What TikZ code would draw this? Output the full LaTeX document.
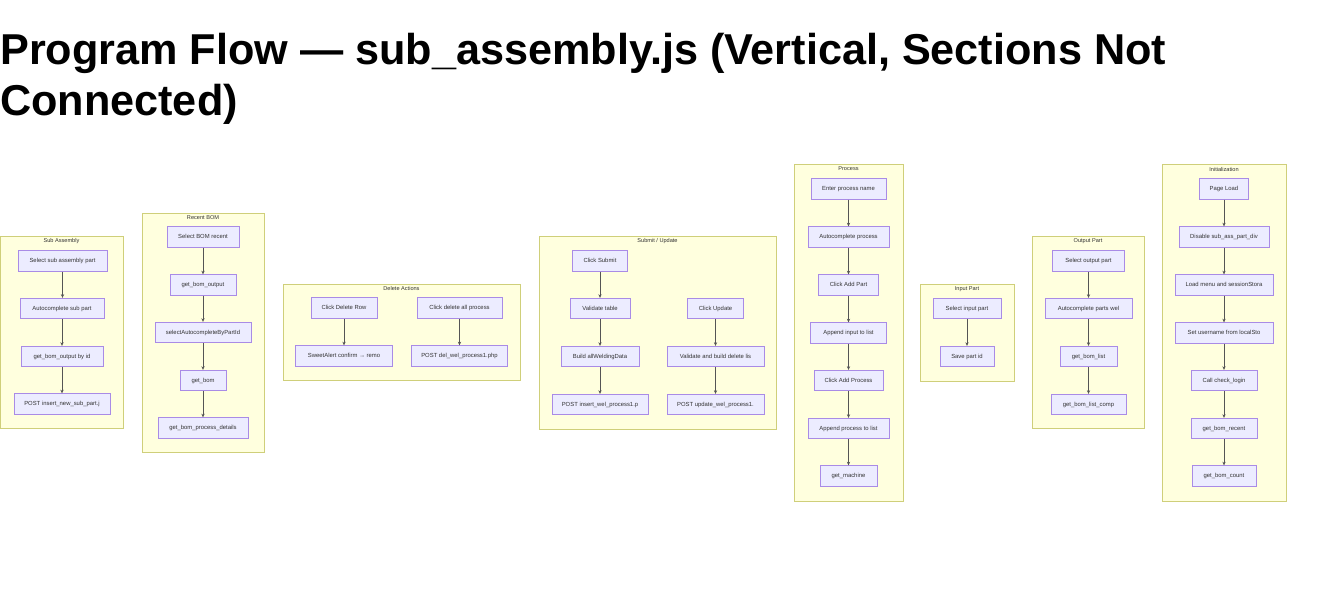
\documentclass[tikz,border=0pt]{standalone}
\usepackage{fontspec}
\setmainfont{Liberation Sans}
\newfontfamily\titlefont{Liberation Sans}
\usetikzlibrary{arrows.meta}
\definecolor{ndfill}{HTML}{ECECFF}
\definecolor{ndline}{HTML}{A98BE6}
\definecolor{clfill}{HTML}{FFFFDE}
\definecolor{clline}{HTML}{CFCF7A}
\definecolor{txt}{HTML}{333333}
\definecolor{arc}{HTML}{555555}
\tikzset{
  nd/.style={draw=ndline, fill=ndfill, line width=0.8pt, minimum height=20.5pt, inner sep=0pt,
    font=\fontsize{5.9}{6.5}\selectfont, text=txt, anchor=center, text height=4.3pt, text depth=1.3pt},
  cl/.style={draw=clline, fill=clfill, line width=0.8pt},
  cltitle/.style={font=\fontsize{5.6}{6}\selectfont, text=txt, inner sep=0pt},
  ar/.style={draw=arc, line width=0.5pt, -{Stealth[length=3.6pt,width=3.2pt]}}
}
\newcommand{\conn}[2]{\draw[ar] (#1.south) -- (#1.south |- #2.north);}
\begin{document}
\begin{tikzpicture}[x=1pt,y=-1pt]
\useasboundingbox (0,0) rectangle (1322,594);
\fill[white] (0,0) rectangle (1322,594);
% title
\node[anchor=base west, inner sep=0pt, font=\titlefont\bfseries\fontsize{43.2}{50}\selectfont] (t1) at (0,65) {Program Flow — sub\_assembly.js (Vertical, Sections Not};
\node[anchor=base west, inner sep=0pt, font=\titlefont\bfseries\fontsize{43.2}{50}\selectfont] (t2) at (0,115) {Connected)};

% clusters
\draw[cl] (0,236) rectangle (123,428);
\node[cltitle] (c1) at (61.5,241) {Sub Assembly};
\draw[cl] (142,213) rectangle (264,452);
\node[cltitle] (c2) at (203,217.5) {Recent BOM};
\draw[cl] (283,284) rectangle (520,380);
\node[cltitle] (c3) at (401.5,288.5) {Delete Actions};
\draw[cl] (539,236) rectangle (776,429);
\node[cltitle] (c4) at (657.5,241) {Submit / Update};
\draw[cl] (794,164) rectangle (903,501);
\node[cltitle] (c5) at (848.5,169) {Process};
\draw[cl] (920,284) rectangle (1014,381);
\node[cltitle] (c6) at (967,289) {Input Part};
\draw[cl] (1032,236) rectangle (1144,428);
\node[cltitle] (c7) at (1088,241) {Output Part};
\draw[cl] (1162,164) rectangle (1286,501);
\node[cltitle] (c8) at (1224,169) {Initialization};

% Sub Assembly
\node[nd, minimum width=89pt] (sa1) at (62.5,261) {Select sub assembly part};
\node[nd, minimum width=84pt] (sa2) at (62,308.5) {Autocomplete sub part};
\node[nd, minimum width=82pt] (sa3) at (62,356.5) {get\_bom\_output by id};
\node[nd, minimum width=96pt] (sa4) at (62,404) {POST insert\_new\_sub\_part.j};
\conn{sa1}{sa2}
\conn{sa2}{sa3}
\conn{sa3}{sa4}

% Recent BOM
\node[nd, minimum width=72pt] (rb1) at (203,237) {Select BOM recent};
\node[nd, minimum width=66pt] (rb2) at (203,285) {get\_bom\_output};
\node[nd, minimum width=96pt] (rb3) at (203,332.5) {selectAutocompleteByPartId};
\node[nd, minimum width=46pt] (rb4) at (203,380.5) {get\_bom};
\node[nd, minimum width=90pt] (rb5) at (203,428) {get\_bom\_process\_details};
\conn{rb1}{rb2}
\conn{rb2}{rb3}
\conn{rb3}{rb4}
\conn{rb4}{rb5}

% Delete Actions
\node[nd, minimum width=66pt] (da1) at (344,308) {Click Delete Row};
\node[nd, minimum width=85pt] (da2) at (459.5,308) {Click delete all process};
\node[nd, minimum width=97pt] (da3) at (344,356) {SweetAlert confirm → remo};
\node[nd, minimum width=96pt] (da4) at (459.5,356) {POST del\_wel\_process1.php};
\conn{da1}{da3}
\conn{da2}{da4}

% Submit / Update
\node[nd, minimum width=55pt] (su1) at (600,261) {Click Submit};
\node[nd, minimum width=60pt] (su2) at (600,308.5) {Validate table};
\node[nd, minimum width=78pt] (su3) at (600,356.5) {Build allWeldingData};
\node[nd, minimum width=96pt] (su4) at (600,404.5) {POST insert\_wel\_process1.p};
\node[nd, minimum width=56pt] (su5) at (715.5,308.5) {Click Update};
\node[nd, minimum width=97pt] (su6) at (715.5,356.5) {Validate and build delete lis};
\node[nd, minimum width=97pt] (su7) at (715.5,404.5) {POST update\_wel\_process1.};
\conn{su1}{su2}
\conn{su2}{su3}
\conn{su3}{su4}
\conn{su5}{su6}
\conn{su6}{su7}

% Process
\node[nd, minimum width=75pt] (pr1) at (848.5,189) {Enter process name};
\node[nd, minimum width=81pt] (pr2) at (848.5,237) {Autocomplete process};
\node[nd, minimum width=60pt] (pr3) at (848.5,285) {Click Add Part};
\node[nd, minimum width=76pt] (pr4) at (848.5,333) {Append input to list};
\node[nd, minimum width=69pt] (pr5) at (848.5,380.5) {Click Add Process};
\node[nd, minimum width=81pt] (pr6) at (848.5,428.5) {Append process to list};
\node[nd, minimum width=57pt] (pr7) at (848.5,476) {get\_machine};
\conn{pr1}{pr2}
\conn{pr2}{pr3}
\conn{pr3}{pr4}
\conn{pr4}{pr5}
\conn{pr5}{pr6}
\conn{pr6}{pr7}

% Input Part
\node[nd, minimum width=68pt] (ip1) at (967,308.5) {Select input part};
\node[nd, minimum width=54pt] (ip2) at (967,356.5) {Save part id};
\conn{ip1}{ip2}

% Output Part
\node[nd, minimum width=72pt] (op1) at (1088.5,261) {Select output part};
\node[nd, minimum width=87pt] (op2) at (1088.5,308.5) {Autocomplete parts wel};
\node[nd, minimum width=57pt] (op3) at (1088.5,356.5) {get\_bom\_list};
\node[nd, minimum width=75pt] (op4) at (1088.5,404.5) {get\_bom\_list\_comp};
\conn{op1}{op2}
\conn{op2}{op3}
\conn{op3}{op4}

% Initialization
\node[nd, minimum width=49pt] (in1) at (1224,189) {Page Load};
\node[nd, minimum width=90pt] (in2) at (1224,237) {Disable sub\_ass\_part\_div};
\node[nd, minimum width=98pt] (in3) at (1224,285) {Load menu and sessionStora};
\node[nd, minimum width=98pt] (in4) at (1224,333) {Set username from localSto};
\node[nd, minimum width=66pt] (in5) at (1224,380.5) {Call check\_login};
\node[nd, minimum width=66pt] (in6) at (1224,428.5) {get\_bom\_recent};
\node[nd, minimum width=64pt] (in7) at (1224,476) {get\_bom\_count};
\conn{in1}{in2}
\conn{in2}{in3}
\conn{in3}{in4}
\conn{in4}{in5}
\conn{in5}{in6}
\conn{in6}{in7}
\end{tikzpicture}
\end{document}
